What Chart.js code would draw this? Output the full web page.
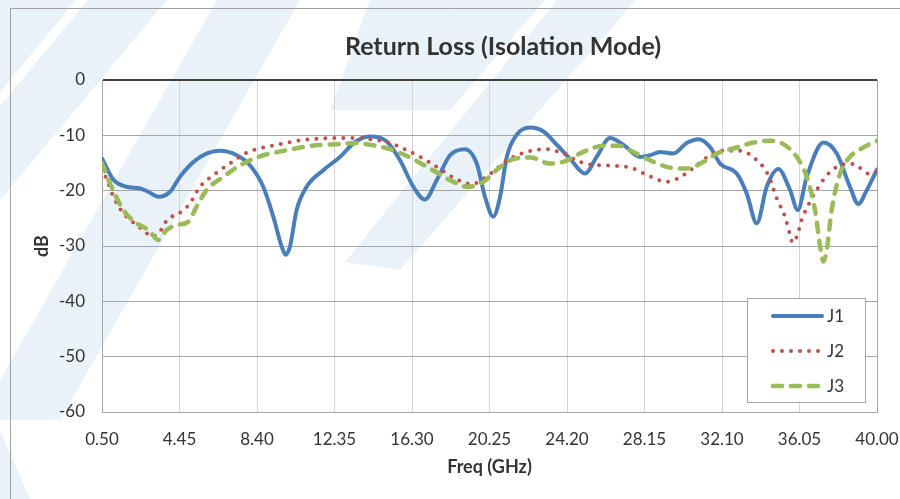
<!DOCTYPE html>
<html>
<head>
<meta charset="utf-8">
<script src="https://cdn.jsdelivr.net/npm/chart.js@4.4.1/dist/chart.umd.min.js"></script>
<style>
  html, body { margin: 0; padding: 0; background: #fff; }
  #wrap { width: 900px; height: 499px; }
</style>
</head>
<body>
<div id="wrap"><canvas id="rl-chart" width="900" height="499"></canvas></div>
<script>
const chartTitle = "Return Loss (Isolation Mode)";
const xTitle = "Freq (GHz)";
const yTitle = "dB";
const xTicks = [0.5, 4.45, 8.4, 12.35, 16.3, 20.25, 24.2, 28.15, 32.1, 36.05, 40];
const yTicks = [0, -10, -20, -30, -40, -50, -60];
const seriesNames = ["J1", "J2", "J3"];

// J1 (solid blue)
const j1Freq = [0.5, 1.08, 1.76, 2.44, 2.86, 3.37, 3.97, 4.47, 4.98, 5.66, 6.51, 7.37, 8.04, 8.72, 9.23, 9.66, 9.86, 10.08, 10.42, 10.93,
  11.78, 12.63, 13.4, 14.16, 15.01, 15.69, 16.37, 16.96, 17.56, 18.24, 19.0, 19.6, 20.02, 20.44, 20.79, 21.13, 21.64, 22.32, 23.0, 23.68,
  24.35, 25.12, 25.71, 26.39, 27.07, 27.92, 28.43, 28.94, 29.62, 30.3, 30.9, 31.49, 32.0, 32.85, 33.36, 33.87, 34.38, 34.97, 35.57, 35.96,
  36.42, 37.27, 37.95, 38.62, 39.05, 39.48, 40.0];
const j1Loss = [-14.2, -18, -19.3, -19.6, -20.2, -21.1, -20.2, -17.5, -15.4, -13.6, -12.8, -13.6, -15.4, -19.3, -24.7, -30.1, -31.6, -30.1, -23.5, -19.3,
  -16.3, -13.9, -11.2, -10.2, -11.1, -14.5, -19.3, -21.6, -18.1, -13.6, -12.5, -15.1, -21.1, -24.7, -21.1, -13.9, -9.9, -8.6, -9.3, -11.7,
  -14.2, -16.9, -13.9, -10.5, -11.7, -13.9, -13.6, -13.0, -13.3, -11.4, -10.7, -12.1, -15.1, -16.9, -20.5, -25.9, -19.3, -16.1, -19.9, -23.5,
  -17.5, -11.3, -13.3, -19.3, -22.4, -19.9, -16.2];

// J2 (red dotted)
const j2Freq = [0.5, 0.74, 1.08, 1.59, 2.27, 2.69, 3.03, 3.37, 3.88, 4.31, 4.98, 5.49, 6.17, 7.02, 7.88, 8.72, 9.57, 10.42, 11.44, 12.46,
  13.4, 14.16, 15.18, 16.03, 16.88, 17.73, 18.49, 19.34, 20.1, 20.62, 21.3, 22.15, 23.08, 24.01, 24.86, 25.71, 26.65, 27.57, 28.43, 29.28,
  29.79, 30.56, 31.32, 32.17, 33.02, 33.87, 34.46, 34.89, 35.31, 35.57, 35.7, 35.91, 36.16, 36.59, 37.01, 37.61, 38.37, 38.8, 39.56, 40.0];
const j2Loss = [-16.0, -18, -21.1, -24.1, -26.2, -27.4, -28.3, -27.8, -25.0, -24.4, -22.3, -19.3, -17.2, -15.1, -13.1, -12.2, -11.6, -11.0, -10.6, -10.5,
  -10.5, -10.7, -11.4, -12.7, -14.2, -16.1, -17.8, -18.8, -17.5, -16.0, -14.2, -13.0, -12.5, -13.3, -14.8, -15.4, -15.5, -16.0, -17.4, -18.4,
  -17.9, -16.1, -14.0, -12.8, -12.8, -14.5, -17.2, -21.4, -24.7, -28.0, -29.4, -28.3, -25.3, -22.0, -19.4, -16.6, -15.2, -15.2, -16.9, -16.5];

// J3 (green dashed)
const j3Freq = [0.5, 0.91, 1.59, 2.27, 2.86, 3.37, 3.8, 4.31, 4.9, 5.32, 5.83, 6.68, 7.7, 8.72, 9.91, 11.1, 12.46, 13.48, 14.16, 15.18,
  16.2, 17.22, 18.24, 19.17, 19.94, 20.7, 21.47, 22.32, 23.34, 24.01, 25.03, 26.05, 26.9, 27.41, 28.43, 29.28, 30.3, 31.15, 31.83, 32.85,
  33.7, 34.55, 35.23, 35.91, 36.42, 36.84, 37.13, 37.27, 37.44, 37.69, 38.12, 38.62, 39.3, 40.0];
const j3Loss = [-15.0, -18.7, -23.5, -25.9, -27.1, -28.9, -27.1, -26.2, -25.6, -22.9, -19.9, -17.5, -15.1, -13.6, -12.7, -11.9, -11.6, -11.4, -11.7, -12.5,
  -14.0, -16.0, -18.1, -19.3, -18.4, -16.0, -14.3, -14.0, -15.1, -14.8, -13.0, -11.9, -11.9, -12.7, -14.5, -15.7, -16.0, -14.8, -13.3, -12.2,
  -11.3, -11.0, -11.6, -13.9, -17.5, -23.5, -30.7, -32.8, -30.7, -23.5, -16.9, -13.9, -12.2, -11.0];

const zip = (xs, ys) => xs.map((x, i) => ({ x: x, y: ys[i] }));

const fontFamily = "Lato, 'Open Sans', sans-serif";
const textColor = '#333333';

// faint logo watermark behind everything
const watermark = {
  id: 'watermark',
  beforeDraw(chart) {
    const c = chart.ctx;
    c.save();
    c.fillStyle = '#e9f1f9';
    const bands = [
      [[0, 0], [76, 0], [0, 92]],
      [[88, 0], [167, 0], [0, 200], [0, 106]],
      [[217, 0], [300, 0], [60, 420], [0, 420], [0, 380]],
      [[0, 430], [30, 499], [0, 499]],
      [[370, 0], [545, 0], [450, 110], [330, 110]],
      [[557, 0], [636, 0], [400, 270], [345, 262]]
    ];
    bands.forEach(pts => {
      c.beginPath();
      pts.forEach((p, i) => i ? c.lineTo(p[0], p[1]) : c.moveTo(p[0], p[1]));
      c.closePath();
      c.fill();
    });
    // outer frame
    c.strokeStyle = '#a0a0a0';
    c.lineWidth = 1;
    c.beginPath();
    c.moveTo(10.5, 499);
    c.lineTo(10.5, 8.5);
    c.lineTo(900, 8.5);
    c.stroke();
    c.restore();
  }
};

// titles and legend drawn where the original puts them
const decorations = {
  id: 'decorations',
  afterDraw(chart) {
    const c = chart.ctx;
    const area = chart.chartArea;
    c.save();
    c.fillStyle = textColor;
    c.textBaseline = 'middle';
    c.textAlign = 'center';
    c.font = "bold 25px " + fontFamily;
    c.fillText(chartTitle, 503, 47);
    c.font = "bold 18px " + fontFamily;
    c.fillText(xTitle, (area.left + area.right) / 2, 467);
    c.save();
    c.translate(42, (area.top + area.bottom) / 2);
    c.rotate(-Math.PI / 2);
    c.fillText(yTitle, 0, 0);
    c.restore();

    // legend box
    c.fillStyle = '#ffffff';
    c.fillRect(748, 298, 118, 105);
    c.strokeStyle = '#a6a6a6';
    c.lineWidth = 1;
    c.strokeRect(747.5, 298.5, 118, 104);
    const rows = [316, 351, 386];
    chart.data.datasets.forEach((ds, i) => {
      c.beginPath();
      c.strokeStyle = ds.borderColor;
      c.lineWidth = ds.borderWidth;
      c.lineCap = ds.borderCapStyle || 'butt';
      c.setLineDash(ds.borderDash || []);
      c.moveTo(773, rows[i]);
      c.lineTo(822, rows[i]);
      c.stroke();
      c.setLineDash([]);
      c.fillStyle = textColor;
      c.textAlign = 'left';
      c.font = "17px " + fontFamily;
      c.fillText(ds.label, 827, rows[i] + 1);
    });
    c.restore();
  }
};

const ctx = document.getElementById('rl-chart').getContext('2d');
const chart = new Chart(ctx, {
  type: 'line',
  data: {
    datasets: [
      {
        label: seriesNames[0],
        data: zip(j1Freq, j1Loss),
        borderColor: '#4a7ebb',
        borderWidth: 4,
        borderCapStyle: 'round',
        order: 3
      },
      {
        label: seriesNames[1],
        data: zip(j2Freq, j2Loss),
        borderColor: '#c0504d',
        borderWidth: 4,
        borderDash: [0, 9],
        borderCapStyle: 'round',
        order: 2
      },
      {
        label: seriesNames[2],
        data: zip(j3Freq, j3Loss),
        borderColor: '#9bbb59',
        borderWidth: 4.5,
        borderDash: [9, 9],
        borderCapStyle: 'round',
        order: 1
      }
    ]
  },
  options: {
    responsive: false,
    animation: false,
    devicePixelRatio: 1,
    layout: { padding: { left: 0, right: 23, top: 80, bottom: 0 } },
    elements: {
      point: { radius: 0 },
      line: { cubicInterpolationMode: 'monotone', fill: false }
    },
    plugins: {
      legend: { display: false },
      title: { display: false },
      tooltip: { enabled: false }
    },
    scales: {
      x: {
        type: 'linear',
        min: 0.5,
        max: 40,
        afterBuildTicks: scale => { scale.ticks = xTicks.map(v => ({ value: v })); },
        afterFit: scale => {
          scale.height = 87;
          scale.paddingLeft = 0;
          scale.paddingRight = 0;
        },
        ticks: {
          callback: v => v.toFixed(2),
          color: textColor,
          font: { family: fontFamily, size: 17 },
          padding: 17,
          maxRotation: 0,
          autoSkip: false
        },
        grid: {
          drawTicks: false,
          color: c => c.tick && c.tick.value === 40 ? '#a6a6a6' : '#d4d4d4'
        },
        border: { color: '#a6a6a6' }
      },
      y: {
        min: -60,
        max: 0,
        afterBuildTicks: scale => { scale.ticks = yTicks.map(v => ({ value: v })); },
        afterFit: scale => { scale.width = 102; },
        ticks: {
          color: textColor,
          font: { family: fontFamily, size: 17 },
          padding: 17
        },
        grid: {
          drawTicks: false,
          color: c => c.tick && c.tick.value === 0 ? '#404040' : '#a6a6a6',
          lineWidth: c => c.tick && c.tick.value === 0 ? 2 : 1
        },
        border: { color: '#a6a6a6' }
      }
    }
  },
  plugins: [watermark, decorations]
});
</script>
</body>
</html>
